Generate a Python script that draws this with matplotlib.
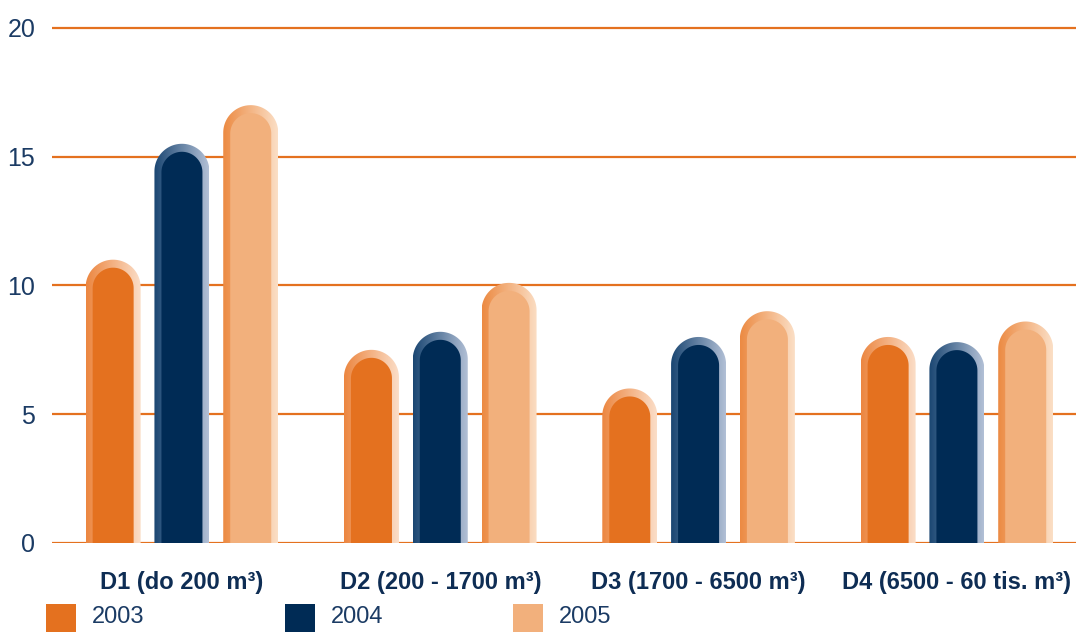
import numpy as np
import matplotlib.pyplot as plt
from matplotlib.path import Path
from matplotlib.patches import PathPatch, Rectangle
from matplotlib.colors import LinearSegmentedColormap

categories = ["D1 (do 200 m³)", "D2 (200 - 1700 m³)", "D3 (1700 - 6500 m³)", "D4 (6500 - 60 tis. m³)"]
years = ["2003", "2004", "2005"]
v2003 = [11.0, 7.5, 6.0, 8.0]
v2004 = [15.5, 8.2, 8.0, 7.8]
v2005 = [17.0, 10.1, 9.0, 8.6]
series = [v2003, v2004, v2005]

fills = ["#E4711F", "#002B55", "#F2B07C"]
rims = [("#EC8640", "#FBDEC8"), ("#1A4672", "#B2C0D6"), ("#EC8A42", "#FBDFC6")]
grid_col = "#E4711F"
navy = "#1B3B64"
navy_bold = "#0E2D54"
narrow = ["Liberation Sans Narrow", "Liberation Sans", "DejaVu Sans"]

fig = plt.figure(figsize=(10.76, 6.32), dpi=100)
ax = fig.add_axes([52 / 1076, 89 / 632, 1 - 52 / 1076, 528 / 632])
xmin, xmax = -0.503, 3.461
ax.set_xlim(xmin, xmax)
ax.set_ylim(0, 20.5)

# pixels per data unit, to keep the caps round
p0 = ax.transData.transform((0, 0))
p1 = ax.transData.transform((1, 1))
sx, sy = p1 - p0

width = 55 / sx
step = 68.8 / sx


def pill(x0, w, top):
    r = w / 2
    ry = r * sx / sy
    t = np.linspace(0, np.pi, 60)
    xs = np.concatenate([[x0 + w], x0 + r + r * np.cos(t), [x0]])
    ys = np.concatenate([[0], top - ry + ry * np.sin(t), [0]])
    verts = np.column_stack([xs, ys])
    return Path(np.vstack([verts, verts[:1]]), closed=True)


for k, vals in enumerate(series):
    cmap = LinearSegmentedColormap.from_list("rim%d" % k, rims[k])
    grad = np.linspace(0, 1, 256).reshape(1, -1)
    for i, v in enumerate(vals):
        x0 = i + (k - 1) * step - width / 2
        outer = PathPatch(pill(x0, width, v), facecolor="none", edgecolor="none")
        ax.add_patch(outer)
        im = ax.imshow(grad, cmap=cmap, extent=[x0, x0 + width, 0, v],
                       aspect="auto", zorder=2, interpolation="bilinear")
        im.set_clip_path(outer)
        inset = 7 / sx
        inner = PathPatch(pill(x0 + inset, width - 2 * inset, v - 8 / sy),
                          facecolor=fills[k], edgecolor="none", zorder=3)
        ax.add_patch(inner)

ax.set_xlim(xmin, xmax)
ax.set_ylim(0, 20.5)

ax.set_yticks([0, 5, 10, 15, 20])
ax.yaxis.grid(True, color=grid_col, linewidth=1.6)
ax.set_axisbelow(True)
ax.tick_params(axis="y", length=0, pad=12, labelcolor=navy, labelsize=18)
for lab in ax.get_yticklabels():
    lab.set_family(narrow)
ax.set_xticks([])
for s in ax.spines.values():
    s.set_visible(False)

for i, c in enumerate(categories):
    ax.text(i, -46 / 528, c, transform=ax.get_xaxis_transform(), ha="center",
            va="baseline", fontsize=17, fontweight="bold", color=navy_bold,
            family=["Liberation Sans", "DejaVu Sans"])

# legend
leg_x = [46, 285, 513]
for k, y in enumerate(years):
    fig.patches.append(Rectangle((leg_x[k] / 1076, 0), 30 / 1076, 28 / 632,
                                 transform=fig.transFigure, facecolor=fills[k],
                                 edgecolor="none"))
    fig.text((leg_x[k] + 46) / 1076, 9 / 632, y, ha="left", va="baseline",
             fontsize=17, color=navy, family=narrow)

fig.savefig("out.png", dpi=100)
